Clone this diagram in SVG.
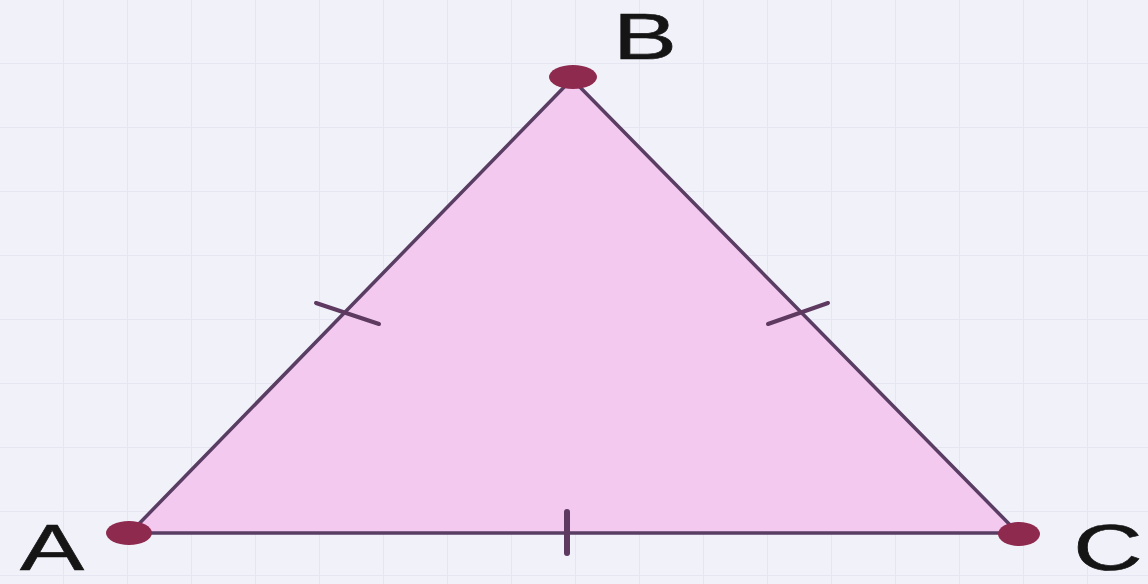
<svg xmlns="http://www.w3.org/2000/svg" width="1148" height="584" viewBox="0 0 1148 584">
<defs>
<pattern id="grid" width="64" height="64" patternUnits="userSpaceOnUse">
<path d="M64 0V64M0 64H64" fill="none" stroke="#E6E6F3" stroke-width="2"/>
</pattern>
<style>
.lbl{font-family:"Liberation Sans",Arial,sans-serif;font-size:64px;fill:#151515;stroke:#151515;stroke-width:0.6;}
.dot{fill:#8E2A4E;}
.tick{stroke:#5E3A60;stroke-width:4;stroke-linecap:round;fill:none;}
</style>
</defs>
<rect width="1148" height="584" fill="#F1F1FA"/>
<rect width="1148" height="584" fill="url(#grid)"/>
<g id="connectors">
<polygon points="130,533 572,79 1018,533" fill="#F3C9EF" stroke="#5A3D63" stroke-width="3.5" stroke-linejoin="round"/>
<line class="tick" x1="316" y1="303" x2="379" y2="324"/>
<line class="tick" x1="768" y1="324" x2="828" y2="303"/>
<line class="tick" x1="567" y1="512" x2="567" y2="553" style="stroke-width:6"/>
</g>
<g id="A"><ellipse class="dot" cx="129" cy="533" rx="23" ry="12"/><text class="lbl" text-anchor="middle" transform="translate(52,570) scale(1.5,1)">A</text></g>
<g id="B"><ellipse class="dot" cx="573" cy="77" rx="24" ry="12"/><text class="lbl" text-anchor="middle" transform="translate(645,59) scale(1.5,1)">B</text></g>
<g id="C"><ellipse class="dot" cx="1019" cy="534" rx="21" ry="12"/><text class="lbl" text-anchor="middle" transform="translate(1108,570) scale(1.5,1)">C</text></g>
</svg>
